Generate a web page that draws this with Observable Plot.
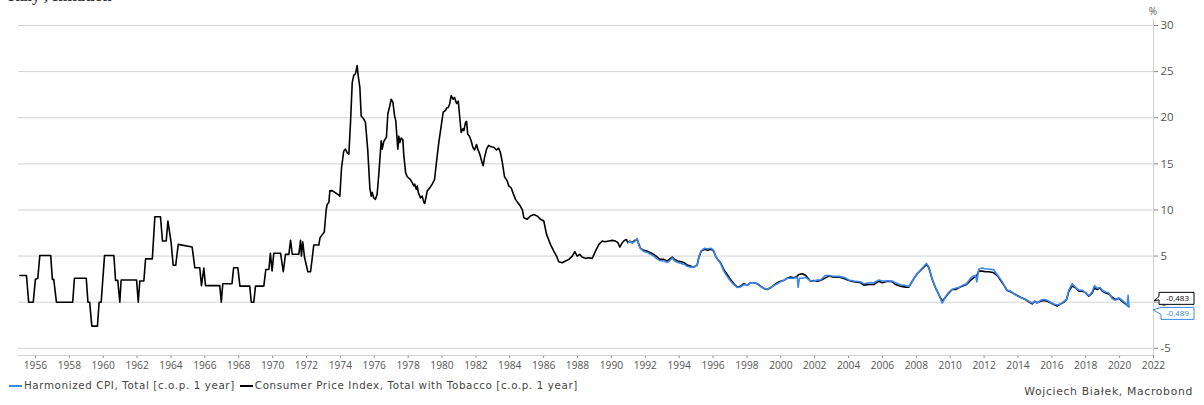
<!DOCTYPE html>
<html>
<head>
<meta charset="utf-8">
<script src="https://cdn.jsdelivr.net/npm/d3@7"></script>
<script src="https://cdn.jsdelivr.net/npm/@observablehq/plot@0.6"></script>
<style>
  html, body { margin: 0; padding: 0; background: #fff; overflow: hidden; }
  #wrap { position: relative; width: 1204px; height: 405px; font-family: "Open Sans", sans-serif; }
  #title { position: absolute; left: 8px; top: -12px; font: bold 16px/16px "Liberation Serif", serif; color: #333; white-space: nowrap; }
  #legend { position: absolute; left: 9px; top: 378px; font-family: "DejaVu Sans", sans-serif; font-size: 10.3px; letter-spacing: 0.62px; line-height: 15px; color: #444; display: flex; gap: 5px; white-space: nowrap; }
  .item { display: flex; align-items: center; }
  .sw { display: inline-block; width: 13px; height: 2px; margin-right: 2px; }
  #caption { position: absolute; right: 11px; top: 384px; font-family: "DejaVu Sans", sans-serif; font-size: 10.8px; letter-spacing: 0.68px; line-height: 15px; color: #444; white-space: nowrap; }
  #chart { position: absolute; left: 0; top: 0; }
  #chart svg g[aria-label^='x-axis'] text { font-size: 10.2px; }
</style>
</head>
<body>
<div id="wrap">
  <div id="chart"></div>
  <div id="title">Italy , Inflation</div>
  <div id="legend"></div>
  <div id="caption">Wojciech Białek, Macrobond</div>
</div>
<script>
// ---- Data (decimal years, % change over previous year) ----
const cpiDates = [
1955.08,1955.47,1955.6,1955.87,1956.0,1956.14,1956.26,1956.9,1957.0,1957.08,1957.24,1958.2,1958.3,1959.0,1959.1,1959.2,1959.33,1959.66,1959.76,1959.88,
1960.08,1960.63,1960.73,1960.86,1960.98,1961.06,1961.97,1962.07,1962.16,1962.4,1962.5,1962.9,1963.05,1963.38,1963.5,1963.72,1963.82,1964.01,1964.13,1964.28,
1964.43,1965.25,1965.41,1965.7,1965.8,1965.94,1966.04,1966.88,1966.97,1967.06,1967.6,1967.7,1967.95,1968.07,1968.65,1968.74,1968.89,1968.99,1969.48,1969.6,
1969.78,1969.87,1969.97,1970.07,1970.47,1970.63,1970.76,1970.96,1971.06,1971.16,1971.55,1971.65,1971.7,1971.78,1971.88,1972.08,1972.24,1972.34,1972.43,1972.73,
1972.8,1973.05,1973.16,1973.22,1973.32,1973.38,1973.52,1973.91,1973.97,1974.07,1974.2,1974.3,1974.4,1974.5,1974.6,1974.7,1974.79,1974.89,1974.99,1975.05,
1975.15,1975.23,1975.38,1975.48,1975.62,1975.74,1975.82,1975.88,1975.97,1976.07,1976.17,1976.27,1976.41,1976.47,1976.56,1976.72,1976.8,1976.92,1977.0,1977.1,
1977.2,1977.27,1977.39,1977.45,1977.51,1977.59,1977.69,1977.74,1977.85,1977.95,1978.14,1978.24,1978.34,1978.39,1978.48,1978.54,1978.6,1978.73,1978.83,1978.93,
1978.98,1979.13,1979.28,1979.42,1979.56,1979.68,1979.81,1979.95,1980.07,1980.21,1980.27,1980.37,1980.46,1980.54,1980.66,1980.74,1980.86,1980.96,1981.05,1981.13,
1981.23,1981.29,1981.39,1981.45,1981.52,1981.62,1981.72,1981.82,1981.92,1982.04,1982.11,1982.23,1982.37,1982.43,1982.51,1982.63,1982.75,1982.9,1983.06,1983.22,
1983.35,1983.45,1983.55,1983.69,1983.85,1983.94,1984.08,1984.2,1984.34,1984.47,1984.63,1984.75,1984.83,1985.03,1985.22,1985.42,1985.62,1985.81,1986.01,1986.17,
1986.4,1986.6,1986.76,1986.89,1987.1,1987.29,1987.49,1987.69,1987.84,1987.98,1988.13,1988.27,1988.47,1988.67,1988.87,1989.06,1989.26,1989.46,1989.59,1989.85,
1990.05,1990.24,1990.38,1990.5,1990.64,1990.77,1990.89,1990.97,1991.09,1991.23,1991.38,1991.52,1991.62,1991.72,1991.91,1992.11,1992.31,1992.5,1992.7,1992.86,
1993.09,1993.29,1993.49,1993.59,1993.72,1993.92,1994.12,1994.31,1994.47,1994.67,1994.86,1995.06,1995.16,1995.3,1995.5,1995.69,1995.89,1996.04,1996.15,1996.28,
1996.44,1996.63,1996.83,1997.03,1997.23,1997.43,1997.62,1997.82,1998.02,1998.21,1998.41,1998.61,1998.8,1999.0,1999.2,1999.39,1999.59,1999.79,1999.98,2000.18,
2000.38,2000.57,2000.77,2000.97,2001.06,2001.26,2001.46,2001.75,2001.95,2002.15,2002.34,2002.64,2002.83,2003.13,2003.42,2003.72,2004.02,2004.31,2004.71,2004.9,
2005.2,2005.49,2005.79,2005.99,2006.28,2006.58,2006.77,2007.07,2007.36,2007.56,2007.76,2008.05,2008.35,2008.6,2008.74,2008.94,2009.13,2009.33,2009.53,2009.72,
2009.92,2010.12,2010.31,2010.51,2010.71,2010.96,2011.2,2011.36,2011.55,2011.69,2011.89,2012.08,2012.28,2012.57,2012.81,2012.97,2013.2,2013.36,2013.56,2013.85,
2014.15,2014.44,2014.64,2014.84,2014.98,2015.13,2015.33,2015.53,2015.73,2015.92,2016.12,2016.32,2016.51,2016.71,2016.87,2017.0,2017.2,2017.4,2017.6,2017.8,
2017.99,2018.18,2018.38,2018.52,2018.68,2018.83,2018.97,2019.16,2019.36,2019.56,2019.75,2019.95,2020.15,2020.34,2020.51,2020.55];
const cpiValues = [
2.9,2.9,0,0,2.5,2.6,5.07,5.07,2.47,2.47,0,0,2.6,2.6,0,0,-2.6,-2.6,0,0,
5.07,5.07,2.36,2.36,0,2.4,2.4,0,2.3,2.3,4.7,4.7,9.27,9.27,6.63,6.63,8.8,6.45,4.0,4.0,
6.27,5.98,3.73,3.73,1.8,3.7,1.8,1.8,0,2.0,2.0,3.73,3.73,1.74,1.74,0,0,1.74,1.74,3.55,
3.55,5.3,3.4,5.3,5.3,3.3,5.18,5.18,6.7,5.2,5.2,6.7,5.0,6.55,4.9,3.3,3.3,4.8,6.2,6.2,
7.0,7.6,9.97,10.6,10.8,12.07,12.1,11.6,11.5,14.6,16.4,16.6,16.2,16.05,19.5,23.8,24.6,24.75,25.65,24.6,
23.3,20.2,19.86,19.5,16.4,12.4,11.5,11.9,11.3,11.15,11.7,13.9,17.5,16.6,17.4,17.9,20.4,21.3,22.0,21.7,
20.2,19.7,16.6,18.0,17.3,17.8,17.6,16.05,14.05,13.6,13.3,12.97,12.6,12.8,12.25,12.6,11.9,11.3,11.5,10.8,
10.7,12.07,12.4,12.8,13.3,15.3,17.3,19.1,20.6,20.8,21.05,21.1,21.55,22.4,22.0,22.2,21.55,21.8,20.0,18.4,
18.8,18.6,19.5,19.6,18.2,18.0,17.5,16.8,16.5,17.1,16.6,16.05,15.1,14.8,15.7,16.6,17.0,16.85,16.8,16.5,
16.7,16.2,15.3,13.6,13.15,12.6,12.4,11.8,11.15,10.8,10.4,9.97,9.16,9.0,9.35,9.5,9.35,9.0,8.8,7.36,
6.27,5.54,5.0,4.38,4.27,4.46,4.64,5.0,5.47,5.0,5.18,4.9,4.75,4.82,4.75,5.54,6.27,6.63,6.55,6.63,
6.7,6.63,6.45,5.98,6.45,6.7,6.8,6.45,6.63,6.45,6.7,6.8,6.27,5.84,5.62,5.54,5.36,5.18,4.9,4.64,
4.64,4.46,4.75,4.9,4.64,4.46,4.38,4.27,4.02,3.91,3.8,4.02,4.82,5.54,5.73,5.62,5.73,5.54,5.0,4.64,
4.27,3.55,3.0,2.47,2.0,1.63,1.74,2.0,1.85,2.1,2.1,2.0,1.74,1.49,1.38,1.56,1.85,2.1,2.28,2.36,
2.6,2.72,2.64,2.83,3.0,3.08,2.93,2.28,2.36,2.28,2.36,2.64,2.83,2.72,2.72,2.57,2.36,2.21,2.1,1.85,
1.92,1.92,2.28,2.1,2.28,2.21,1.92,1.74,1.63,1.63,2.28,3.08,3.62,4.1,3.73,2.47,1.56,0.83,0.1,0.54,
1.01,1.38,1.38,1.56,1.74,1.92,2.36,2.64,2.83,3.37,3.37,3.3,3.3,3.19,2.83,2.36,1.74,1.27,1.12,0.83,
0.54,0.29,0.03,-0.18,0.1,-0.07,0.1,0.18,0.1,-0.07,-0.25,-0.43,-0.18,0.0,0.29,1.2,1.74,1.56,1.2,1.2,
1.01,0.65,1.01,1.56,1.38,1.56,1.2,1.01,0.9,0.54,0.29,0.4,0.1,-0.18,-0.43,-0.483];

const hicpDates = [
1991.0,1991.09,1991.23,1991.38,1991.52,1991.62,1991.72,1991.91,1992.11,1992.31,1992.5,1992.7,1992.86,1993.09,1993.29,1993.49,1993.59,1993.72,1993.92,1994.12,
1994.31,1994.47,1994.67,1994.86,1995.06,1995.16,1995.3,1995.5,1995.69,1995.89,1996.04,1996.15,1996.28,1996.44,1996.63,1996.83,1997.03,1997.23,1997.43,1997.62,
1997.82,1998.02,1998.21,1998.41,1998.61,1998.8,1999.0,1999.2,1999.39,1999.59,1999.79,1999.98,2000.18,2000.38,2000.57,2000.77,2000.97,2001.02,2001.1,2001.26,
2001.46,2001.75,2001.95,2002.15,2002.34,2002.64,2002.83,2003.13,2003.42,2003.72,2004.02,2004.31,2004.71,2004.9,2005.2,2005.49,2005.79,2005.99,2006.28,2006.58,
2006.77,2007.07,2007.36,2007.56,2007.76,2008.05,2008.35,2008.6,2008.74,2008.94,2009.13,2009.33,2009.53,2009.72,2009.92,2010.12,2010.31,2010.51,2010.71,2010.96,
2011.2,2011.36,2011.5,2011.57,2011.69,2011.89,2012.08,2012.28,2012.57,2012.81,2012.97,2013.2,2013.36,2013.56,2013.85,2014.15,2014.44,2014.64,2014.84,2014.98,
2015.13,2015.33,2015.53,2015.73,2015.92,2016.12,2016.32,2016.51,2016.71,2016.87,2017.0,2017.2,2017.4,2017.6,2017.8,2017.99,2018.18,2018.38,2018.52,2018.68,
2018.83,2018.97,2019.16,2019.36,2019.56,2019.75,2019.95,2020.15,2020.34,2020.45,2020.5,2020.55];
const hicpValues = [
6.5,6.6,6.4,6.6,6.9,6.2,5.8,5.5,5.4,5.2,5.0,4.7,4.5,4.5,4.3,4.6,4.8,4.5,4.3,4.2,
4.1,3.9,3.8,3.8,4.0,4.9,5.6,5.85,5.8,5.85,5.6,5.0,4.6,4.2,3.4,2.8,2.3,1.9,1.6,1.65,
1.9,1.85,2.1,2.1,2.0,1.7,1.5,1.4,1.6,1.8,2.0,2.2,2.4,2.6,2.6,2.6,2.7,1.6,2.6,2.6,
2.7,2.3,2.3,2.4,2.4,2.9,2.9,2.8,2.8,2.7,2.4,2.3,2.2,2.0,2.1,2.1,2.4,2.3,2.3,2.3,
2.1,1.9,1.8,1.7,2.3,3.1,3.7,4.2,3.8,2.5,1.6,0.8,-0.1,0.6,1.1,1.4,1.5,1.6,1.8,2.0,
2.6,2.8,2.9,2.2,3.6,3.7,3.6,3.6,3.5,2.9,2.5,1.8,1.3,1.2,0.8,0.5,0.3,0.1,-0.1,0.1,
-0.1,0.2,0.3,0.2,0.0,-0.2,-0.3,-0.2,0.1,0.3,1.3,2.0,1.6,1.3,1.3,1.0,0.7,1.1,1.8,1.5,
1.6,1.3,1.1,1.0,0.4,0.2,0.5,0.2,-0.1,-0.4,0.75,-0.489];

const seriesNames = ["Harmonized CPI, Total [c.o.p. 1 year]", "Consumer Price Index, Total with Tobacco [c.o.p. 1 year]"];
const seriesColors = ["#3a87ef", "#000000"];
const lastLabels = ["-0,489", "-0,483"];
const lastValues = [-0.489, -0.483];
const yTicks = [-5, 0, 5, 10, 15, 20, 25, 30];
const xTicks = d3.range(1956, 2023, 2);

const cpi = cpiDates.map((d, i) => ({date: d, value: cpiValues[i]}));
const hicp = hicpDates.map((d, i) => ({date: d, value: hicpValues[i]}));

const chart = Plot.plot({
  width: 1204,
  height: 375,
  marginLeft: 18,
  marginRight: 51,
  marginTop: 19,
  marginBottom: 20,
  style: {fontFamily: "Open Sans, sans-serif", fontSize: "11.5px", color: "#555", background: "#fff", overflow: "visible"},
  x: {domain: [1955, 2022], ticks: xTicks, tickSize: 3, tickPadding: 3, tickFormat: d => String(d), label: null, line: false},
  y: {domain: [-5.78, 30.65], ticks: yTicks, tickSize: 4, tickPadding: 3, tickFormat: d => String(d), label: null, axis: "right"},
  marks: [
    Plot.ruleY(yTicks, {stroke: "#d2d2d2", strokeWidth: 1}),
    Plot.ruleY([-5.78], {stroke: "#d2d2d2"}),
    Plot.ruleX([2022], {stroke: "#d2d2d2"}),
    Plot.line(cpi, {x: "date", y: "value", stroke: seriesColors[1], strokeWidth: 1.6}),
    Plot.line(hicp, {x: "date", y: "value", stroke: seriesColors[0], strokeWidth: 1.6})
  ]
});
document.getElementById("chart").appendChild(chart);

// tick colours
d3.select(chart).selectAll("[aria-label='x-axis'] line, [aria-label='y-axis'] line, [aria-label='x-axis tick'] path, [aria-label='y-axis tick'] path").attr("stroke", "#888");

// "%" unit label and last-value callouts, placed with the chart's own scales
const sx = chart.scale("x"), sy = chart.scale("y");
const xr = sx.apply(2022);
const svg = d3.select(chart);
svg.append("text").attr("x", xr).attr("y", sy.apply(30.65) - 4).attr("text-anchor", "middle")
  .attr("font-size", 10).attr("fill", "#555").text("%");

const offsets = [7.2, -7.8];
[1, 0].forEach(i => {
  const cy = sy.apply(lastValues[i]) + offsets[i];
  const x0 = xr + 6, x1 = xr + 41, h = 6;
  let d;
  if (i === 1) {
    d = `M${xr + 1},${cy + 2.5} L${x0},${cy - 2} L${x0},${cy - h} L${x1},${cy - h} L${x1},${cy + h} L${x0},${cy + h} L${x0},${cy + 1.5} Z`;
  } else {
    d = `M${xr},${cy - 3.5} L${x0 + 2},${cy - h} L${x1},${cy - h} L${x1},${cy + h} L${x0 + 2},${cy + h} L${x0 + 2},${cy + 1} Z`;
  }
  svg.append("path").attr("d", d).attr("fill", "#fff").attr("stroke", seriesColors[i]).attr("stroke-width", 1);
  svg.append("text").attr("x", (x0 + x1) / 2 + 1).attr("y", cy).attr("dy", "0.35em")
    .attr("text-anchor", "middle").attr("font-size", 8).attr("fill", seriesColors[i]).text(lastLabels[i]);
});

// legend
const legend = d3.select("#legend");
seriesNames.forEach((n, i) => {
  const it = legend.append("div").attr("class", "item");
  it.append("span").attr("class", "sw").style("background", seriesColors[i]);
  it.append("span").text(n);
});
</script>
</body>
</html>
